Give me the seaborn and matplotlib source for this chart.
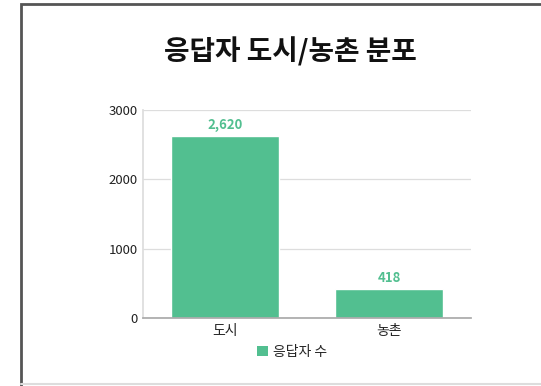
import matplotlib
matplotlib.use("Agg")
import matplotlib.pyplot as plt
import seaborn as sns
import pandas as pd
from matplotlib.patches import Rectangle, Patch

categories = ["도시", "농촌"]
values = [2620, 418]
value_labels = ["2,620", "418"]
yticks = [0, 1000, 2000, 3000]
title = "응답자 도시/농촌 분포"
series_name = "응답자 수"

sns.set_theme(style="white")
plt.rcParams['font.family'] = ['Noto Sans CJK KR', 'DejaVu Sans']

color = "#52bf90"
df = pd.DataFrame({"cat": categories, "val": values})

fig = plt.figure(figsize=(5.41, 3.86), dpi=100)
ax = fig.add_axes([143/541, 1 - 318/386, (471-143)/541, (318-110)/386])

sns.barplot(data=df, x="cat", y="val", color=color, width=0.66, ax=ax, saturation=1)

ax.set_ylim(0, 3000)
ax.set_yticks(yticks)
ax.set_yticklabels([str(t) for t in yticks], fontsize=9.5, color="#222222")
ax.set_xticklabels(categories, fontsize=10, color="#222222")
ax.set_xlabel("")
ax.set_ylabel("")
ax.grid(axis="y", color="#dddddd", linewidth=0.9)
ax.set_axisbelow(True)
ax.tick_params(length=0, pad=4)
for s in ["top", "right"]:
    ax.spines[s].set_visible(False)
ax.spines["left"].set_color("#dddddd")
ax.spines["bottom"].set_color("#aaaaaa")

for cont in ax.containers:
    ax.bar_label(cont, labels=value_labels, padding=3, color=color, fontsize=9.5, fontweight="bold")

fig.text(290/541, 1 - 52/386, title, ha="center", va="center", fontsize=20, fontweight="bold", color="#111111")

leg = fig.legend(handles=[Patch(facecolor=color, edgecolor="none", label=series_name)],
                 loc="center", bbox_to_anchor=(292/541, 1 - 352/386), frameon=False,
                 fontsize=10, handlelength=0.8, handleheight=0.8, handletextpad=0.3)

fig.add_artist(Rectangle((20.5/541, -0.05), 1.0, 1 - 3.5/386 + 0.05, transform=fig.transFigure,
                         fill=False, edgecolor="#555555", linewidth=2))
fig.add_artist(plt.Line2D([21/541, 1], [1 - 384/386, 1 - 384/386], transform=fig.transFigure,
                          color="#dddddd", linewidth=1.5))

fig.savefig("out.png", dpi=100)
